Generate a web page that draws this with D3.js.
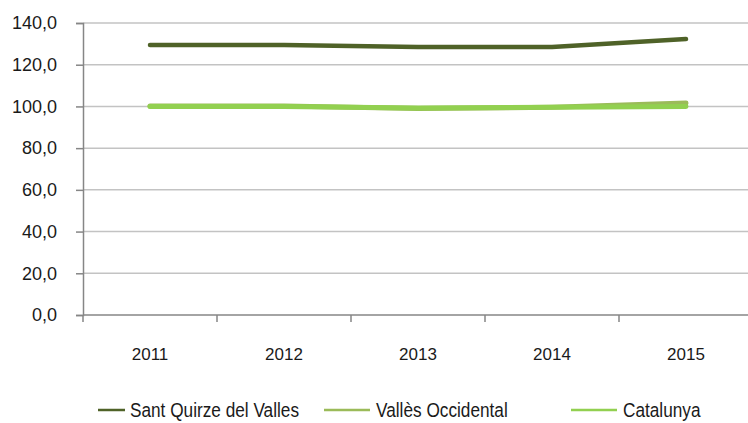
<!DOCTYPE html>
<html>
<head>
<meta charset="utf-8">
<script src="https://cdn.jsdelivr.net/npm/d3@7"></script>
<style>
  body { margin: 0; background: #fff; }
  text { fill: #1a1a1a; }
</style>
</head>
<body>
<div id="chart"></div>
<script>
// chart values
var years = ["2011", "2012", "2013", "2014", "2015"];
var seriesNames = ["Sant Quirze del Valles", "Vallès Occidental", "Catalunya"];
var santQuirze = [129.5, 129.5, 128.5, 128.5, 132.3];
var vallesOcc = [100.2, 100.2, 99.0, 99.6, 101.6];
var catalunya = [100, 100, 99.2, 99.6, 100];
var yTicks = [0, 20, 40, 60, 80, 100, 120, 140];

var WIDTH = 748, HEIGHT = 423;
var LEFT = 83, TOP = 23, BOTTOM = 315;
var BAND = 134;

var colors = ["#4f6228", "#9bbb59", "#92d050"];
var widths = [4.5, 5, 5];

var svg = d3.select("#chart").append("svg")
  .attr("width", WIDTH).attr("height", HEIGHT);

var x = d3.scaleBand().domain(years).range([LEFT, LEFT + BAND * years.length]);
var y = d3.scaleLinear().domain([0, 140]).range([BOTTOM, TOP]);

var fmt = function (d) { return d3.format(".1f")(d).replace(".", ","); };

// gridlines
svg.append("g").selectAll("line")
  .data(yTicks.filter(function (d) { return d > 0; }))
  .enter().append("line")
  .attr("x1", LEFT).attr("x2", WIDTH)
  .attr("y1", function (d) { return y(d); })
  .attr("y2", function (d) { return y(d); })
  .attr("stroke", "#c3c3c3").attr("stroke-width", 1.5);

// y axis
var yAxis = svg.append("g")
  .attr("transform", "translate(" + LEFT + ",0)")
  .call(d3.axisLeft(y).tickValues(yTicks).tickFormat(fmt).tickSize(7).tickPadding(19));
yAxis.select(".domain").attr("stroke", "#868686").attr("stroke-width", 1.5);
yAxis.selectAll(".tick line").attr("stroke", "#868686").attr("stroke-width", 1.5);
yAxis.selectAll("text")
  .style("font-family", "'Liberation Sans', Arial, sans-serif")
  .style("font-size", "18px").attr("fill", "#1a1a1a");

// x axis
var xg = svg.append("g").attr("transform", "translate(0," + BOTTOM + ")");
xg.append("line").attr("x1", LEFT).attr("x2", WIDTH)
  .attr("stroke", "#868686").attr("stroke-width", 1.5);
xg.selectAll("line.tk")
  .data(years)
  .enter().append("line").attr("class", "tk")
  .attr("x1", function (d) { return x(d); })
  .attr("x2", function (d) { return x(d); })
  .attr("y1", 0).attr("y2", 7)
  .attr("stroke", "#868686").attr("stroke-width", 1.5);
xg.selectAll("text")
  .data(years)
  .enter().append("text")
  .attr("x", function (d) { return x(d) + x.bandwidth() / 2; })
  .attr("y", 45)
  .attr("text-anchor", "middle")
  .style("font-family", "'Liberation Sans', Arial, sans-serif")
  .style("font-size", "17px")
  .text(function (d) { return d; });

// lines
var allSeries = [santQuirze, vallesOcc, catalunya];
var line = d3.line()
  .x(function (d, i) { return x(years[i]) + x.bandwidth() / 2; })
  .y(function (d) { return y(d); });

allSeries.forEach(function (vals, k) {
  svg.append("path")
    .datum(vals)
    .attr("d", line)
    .attr("fill", "none")
    .attr("stroke", colors[k])
    .attr("stroke-width", widths[k])
    .attr("stroke-linecap", "round")
    .attr("stroke-linejoin", "round");
});

// legend (narrow font imitated by squeezing Liberation Sans)
var legX = [98, 324, 571];
var leg = svg.append("g").attr("transform", "translate(0,410)");
seriesNames.forEach(function (name, k) {
  leg.append("line")
    .attr("x1", legX[k]).attr("x2", legX[k] + 27 + (k > 0 ? 19 : 0))
    .attr("y1", 0).attr("y2", 0)
    .attr("stroke", colors[k]).attr("stroke-width", 2.5);
  leg.append("text")
    .attr("transform", "translate(" + (legX[k] + 32 + (k > 0 ? 20 : 0)) + ",7) scale(0.84,1)")
    .style("font-family", "'Liberation Sans', Arial, sans-serif")
    .style("font-size", "20.5px")
    .text(name);
});
</script>
</body>
</html>
